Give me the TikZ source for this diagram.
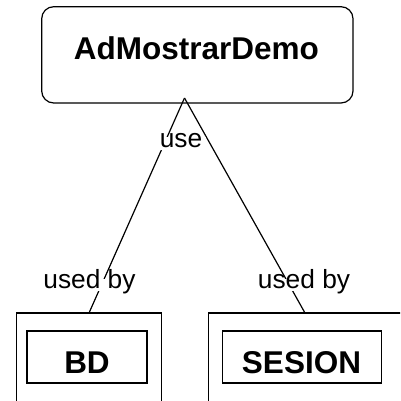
\documentclass[tikz,border=0pt]{standalone}
\usepackage{fontspec}
\setmainfont{Liberation Sans}
\begin{document}
\begin{tikzpicture}[x=1pt,y=-1pt,
  line/.style={line width=1.2pt},
  boxline/.style={draw,line width=1.2pt},
  titletext/.style={font=\fontsize{31.5}{36}\selectfont\bfseries,inner sep=0pt,anchor=base},
  lbl/.style={font=\fontsize{26.3}{30}\selectfont,fill=white,anchor=base,inner xsep=4pt,inner ysep=0.5pt,text height=0.905em,text depth=0.212em}]
\useasboundingbox (0,0) rectangle (400,401);
\clip (0,0) rectangle (400,401);
% boxes (nodes, drawn after connectors via layers-free order)
\path (41.7,6.7) coordinate (tl) (353,103) coordinate (br);
\coordinate (apex) at (184.5,98);
\node[minimum width=144pt,minimum height=110pt,inner sep=0pt,anchor=north] (bdout) at (89,313) {};
\node[minimum width=192pt,minimum height=110pt,inner sep=0pt,anchor=north] (sesout) at (305,313) {};
% connectors
\draw[line] (apex) -- (bdout.north);
\draw[line] (apex) -- (sesout.north);
% labels
\node[lbl] (use) at (181,147) {use};
\node[lbl] (ub1) at (89.5,288.5) {used by};
\node[lbl] (ub2) at (304,288.5) {used by};
% top box
\node[boxline,rounded corners=12pt,minimum width=311.3pt,minimum height=96.3pt,inner sep=0pt] (top) at (197.35,54.85) {};
\node[titletext] (toptxt) at (196.5,60) {AdMostrarDemo};
% outer boxes
\draw[line] (bdout.south west) -- (bdout.north west) -- (bdout.north east) -- (bdout.south east);
\draw[line] (sesout.south west) -- (sesout.north west) -- (sesout.north east) -- (sesout.south east);
% inner boxes
\node[boxline,minimum width=120pt,minimum height=52pt,inner sep=0pt] (bdin) at (87,357) {};
\node[titletext] (bdtxt) at (87,373) {BD};
\node[boxline,minimum width=159.5pt,minimum height=52pt,inner sep=0pt] (sesin) at (302,357) {};
\node[titletext] (sestxt) at (301.5,373) {SESION};
\end{tikzpicture}
\end{document}
